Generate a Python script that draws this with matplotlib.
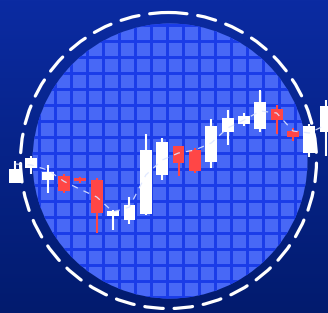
import numpy as np
import matplotlib
matplotlib.use("Agg")
import matplotlib.pyplot as plt
from matplotlib.patches import Circle
from matplotlib.colors import LinearSegmentedColormap

# candle data (price units)
opens = [65, 72.5, 66.5, 68.5, 67.5, 66.5, 48.5, 46.5, 49.5, 69,
         83.5, 81.5, 75.5, 90.5, 94.5, 92, 102, 91, 80, 90.5]
closes = [72, 77.5, 70.5, 61, 66, 50, 51, 54, 81.5, 85.5,
          75, 71, 93.5, 97.5, 98.5, 105.5, 96.5, 88, 93.5, 103.5]
highs = [76, 78.5, 74, 69.5, 68, 67.5, 51.5, 58, 89.5, 87.5,
         83.5, 82.5, 97, 101.5, 100, 111.5, 104, 92.5, 94.5, 106.5]
lows = [65, 69.5, 60, 60, 65, 40, 41.5, 44.5, 49, 66.5,
        68.5, 70, 72.5, 84, 93.5, 90.5, 89.5, 86, 78, 78.5]
trend = [74.5, 74, 71.5, 65.8, 61.8, 58, 50.5, 53, 69, 76.5,
         80, 81.5, 85, 92.5, 96.5, 101, 100, 91, 90, 94]

W, H = 328, 313
fig = plt.figure(figsize=(W / 100, H / 100), dpi=100)

# background layer in pixel units
bg = fig.add_axes([0, 0, 1, 1])
bg.set_xlim(0, W)
bg.set_ylim(H, 0)
bg.axis("off")
cmap = LinearSegmentedColormap.from_list("bg", ["#0b2ba2", "#021b6e"])
grad = np.linspace(0, 1, 256).reshape(-1, 1)
bg.imshow(grad, cmap=cmap, extent=[0, W, H, 0], aspect="auto", zorder=0)

cx, cy = 170, 161
disc = Circle((cx, cy), 137.5, facecolor="#4868f6", edgecolor="none", zorder=1)
bg.add_patch(disc)
for gx in np.arange(7, W, 16):
    ln, = bg.plot([gx, gx], [0, H], color="#1a3ce8", lw=2.1, zorder=2)
    ln.set_clip_path(disc)
for gy in np.arange(9, H, 16):
    ln, = bg.plot([0, W], [gy, gy], color="#1a3ce8", lw=2.1, zorder=2)
    ln.set_clip_path(disc)

ring = Circle((168.5, 160.5), 148, facecolor="none", edgecolor="white",
              lw=2.3, zorder=3, linestyle=(0, (5.8, 3.4)), capstyle="round")
bg.add_patch(ring)

# candle layer in data units
ax = fig.add_axes([0, 0, 1, 1])
ax.patch.set_alpha(0)
ax.axis("off")
x = np.arange(len(opens))
ax.set_xlim(-0.917, 19.14)
ax.set_ylim(0, 156.5)

o = np.array(opens)
c = np.array(closes)
up = c >= o
colors = np.where(up, "white", "#ff4646")
ax.vlines(x, lows, highs, colors=colors, lw=1.5, zorder=4)
ax.bar(x, np.abs(c - o), bottom=np.minimum(o, c), width=0.73,
       color=colors, zorder=5)
ax.plot(x, trend, color="#dde6ff", lw=0.9, alpha=0.9, zorder=6,
        linestyle=(0, (5, 5)))

fig.savefig("out.png", dpi=100)
